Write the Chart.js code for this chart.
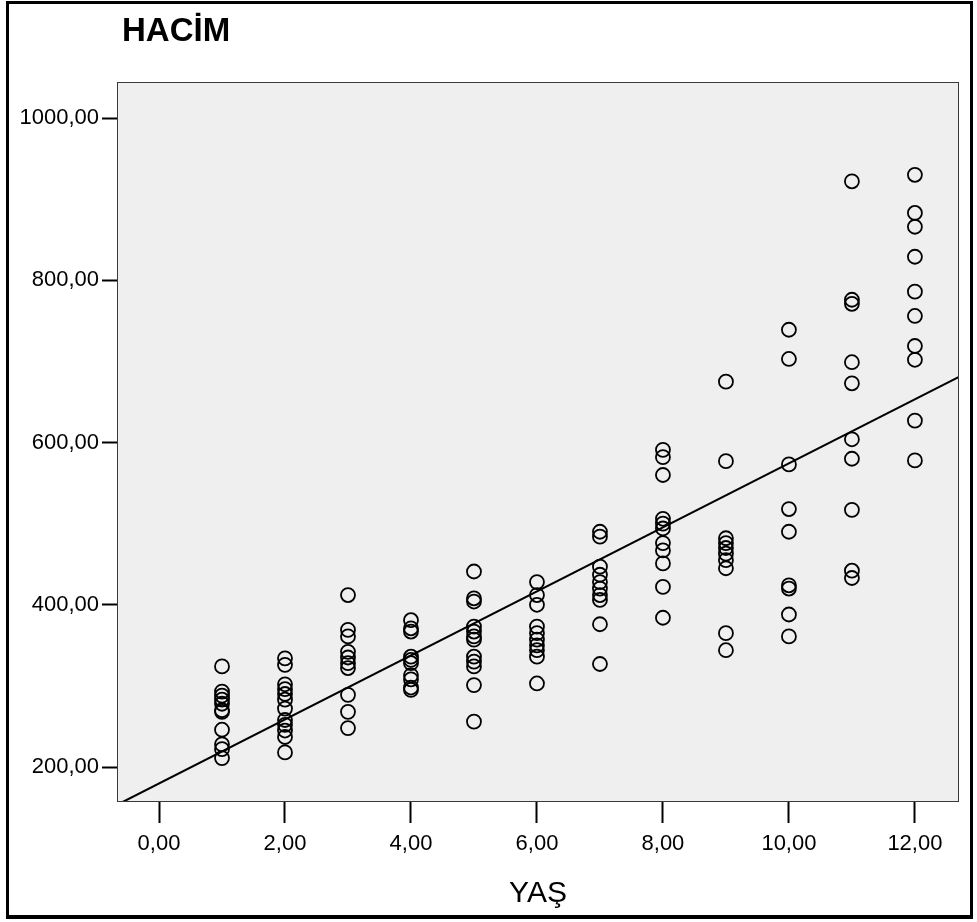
<!DOCTYPE html>
<html>
<head>
<meta charset="utf-8">
<script src="https://cdn.jsdelivr.net/npm/chart.js@4.4.1/dist/chart.umd.min.js"></script>
<style>
  html, body { margin: 0; padding: 0; background: #ffffff; }
  #wrap { width: 977px; height: 922px; position: relative; }
</style>
</head>
<body>
<div id="wrap"><canvas id="c" width="977" height="922"></canvas></div>
<script>
// ---- data ----
const chartTitle = 'HACİM';
const xAxisTitle = 'YAŞ';
const xTickValues = [0, 2, 4, 6, 8, 10, 12];
const xTickLabels = ['0,00', '2,00', '4,00', '6,00', '8,00', '10,00', '12,00'];
const yTickValues = [200, 400, 600, 800, 1000];
const yTickLabels = ['200,00', '400,00', '600,00', '800,00', '1000,00'];

const ages = [1, 2, 3, 4, 5, 6, 7, 8, 9, 10, 11, 12];
const hacimAge1  = [324, 293, 288, 283, 278, 270, 268, 246, 228, 222, 211];
const hacimAge2  = [334, 326, 302, 296, 290, 283, 272, 258, 252, 245, 237, 218];
const hacimAge3  = [412, 369, 361, 342, 335, 328, 322, 289, 268, 248];
const hacimAge4  = [381, 371, 367, 336, 332, 328, 313, 308, 298, 295];
const hacimAge5  = [441, 408, 404, 373, 367, 361, 357, 336, 330, 324, 301, 256];
const hacimAge6  = [428, 412, 400, 373, 365, 357, 350, 344, 336, 303];
const hacimAge7  = [490, 484, 447, 437, 428, 420, 412, 406, 376, 327];
const hacimAge8  = [591, 582, 560, 506, 500, 494, 476, 467, 451, 422, 384];
const hacimAge9  = [675, 577, 482, 476, 470, 463, 455, 445, 365, 344];
const hacimAge10 = [739, 703, 573, 518, 490, 424, 420, 388, 361];
const hacimAge11 = [922, 776, 771, 699, 673, 604, 580, 517, 442, 433];
const hacimAge12 = [930, 883, 866, 829, 786, 756, 719, 702, 627, 578];

const fitLineX = [-0.6, 12.7];
const fitLineY = [156, 681];

// ---- build library data from the arrays ----
const hacimByAge = [hacimAge1, hacimAge2, hacimAge3, hacimAge4, hacimAge5, hacimAge6,
                    hacimAge7, hacimAge8, hacimAge9, hacimAge10, hacimAge11, hacimAge12];
const scatterPoints = [];
ages.forEach((a, i) => hacimByAge[i].forEach(v => scatterPoints.push({x: a, y: v})));
const fitPoints = fitLineX.map((x, i) => ({x: x, y: fitLineY[i]}));

const FONT = "'Liberation Sans', Arial, Helvetica, sans-serif";

const decorPlugin = {
  id: 'decor',
  beforeDraw(chart) {
    const ctx = chart.ctx;
    const a = chart.chartArea;
    ctx.save();
    ctx.fillStyle = '#ffffff';
    ctx.fillRect(0, 0, chart.width, chart.height);
    // outer frame
    ctx.fillStyle = '#000000';
    ctx.fillRect(6, 1, 966, 3);
    ctx.fillRect(6, 1, 3, 918);
    ctx.fillRect(970, 1, 3, 918);
    ctx.fillRect(6, 915, 967, 4);
    // plot background
    ctx.fillStyle = '#efefef';
    ctx.fillRect(a.left, a.top, a.right - a.left, a.bottom - a.top);
    // chart title
    ctx.fillStyle = '#000000';
    ctx.font = "bold 33px " + FONT;
    ctx.textAlign = 'left';
    ctx.textBaseline = 'alphabetic';
    ctx.fillText(chartTitle, 122, 41);
    ctx.restore();
  },
  afterDatasetsDraw(chart) {
    const ctx = chart.ctx;
    const a = chart.chartArea;
    ctx.save();
    ctx.strokeStyle = '#3a3a3a';
    ctx.lineWidth = 1;
    ctx.strokeRect(a.left + 0.5, a.top + 0.5, a.right - a.left - 1, a.bottom - a.top - 1);
    ctx.restore();
  }
};

new Chart(document.getElementById('c'), {
  type: 'scatter',
  data: {
    datasets: [
      {
        label: 'HACİM',
        data: scatterPoints,
        pointStyle: 'circle',
        pointRadius: 7,
        pointHoverRadius: 7,
        pointBorderWidth: 1.8,
        borderColor: '#000000',
        backgroundColor: 'rgba(0,0,0,0)',
        order: 2
      },
      {
        type: 'line',
        label: 'fit',
        data: fitPoints,
        showLine: true,
        borderColor: '#000000',
        borderWidth: 2,
        pointRadius: 0,
        fill: false,
        order: 1
      }
    ]
  },
  options: {
    responsive: false,
    animation: false,
    devicePixelRatio: 1,
    layout: { padding: { left: 0, top: 82, right: 18, bottom: 0 } },
    plugins: {
      legend: { display: false },
      tooltip: { enabled: false },
      title: { display: false }
    },
    scales: {
      x: {
        type: 'linear',
        min: -0.667,
        max: 12.7,
        afterBuildTicks(scale) { scale.ticks = xTickValues.map(v => ({value: v})); },
        afterFit(scale) { scale.height = 120; },
        ticks: {
          color: '#000000',
          font: { family: FONT, size: 22 },
          padding: 8,
          maxRotation: 0,
          autoSkip: false,
          callback(value) { const i = xTickValues.indexOf(value); return i >= 0 ? xTickLabels[i] : ''; }
        },
        grid: {
          display: true,
          drawOnChartArea: false,
          drawTicks: true,
          tickLength: 21,
          tickWidth: 2,
          tickColor: '#000000',
          color: '#000000'
        },
        border: { display: false },
        title: {
          display: true,
          text: xAxisTitle,
          color: '#000000',
          font: { family: FONT, size: 30 },
          padding: { top: 0, bottom: 10 }
        }
      },
      y: {
        type: 'linear',
        min: 156.9,
        max: 1044.4,
        afterBuildTicks(scale) { scale.ticks = yTickValues.map(v => ({value: v})); },
        afterFit(scale) { scale.width = 117; },
        ticks: {
          color: '#000000',
          font: { family: FONT, size: 22 },
          padding: 3,
          autoSkip: false,
          callback(value) { const i = yTickValues.indexOf(value); return i >= 0 ? yTickLabels[i] : ''; }
        },
        grid: {
          display: true,
          drawOnChartArea: false,
          drawTicks: true,
          tickLength: 15,
          tickWidth: 2,
          tickColor: '#000000',
          color: '#000000'
        },
        border: { display: false }
      }
    }
  },
  plugins: [decorPlugin]
});
</script>
</body>
</html>
